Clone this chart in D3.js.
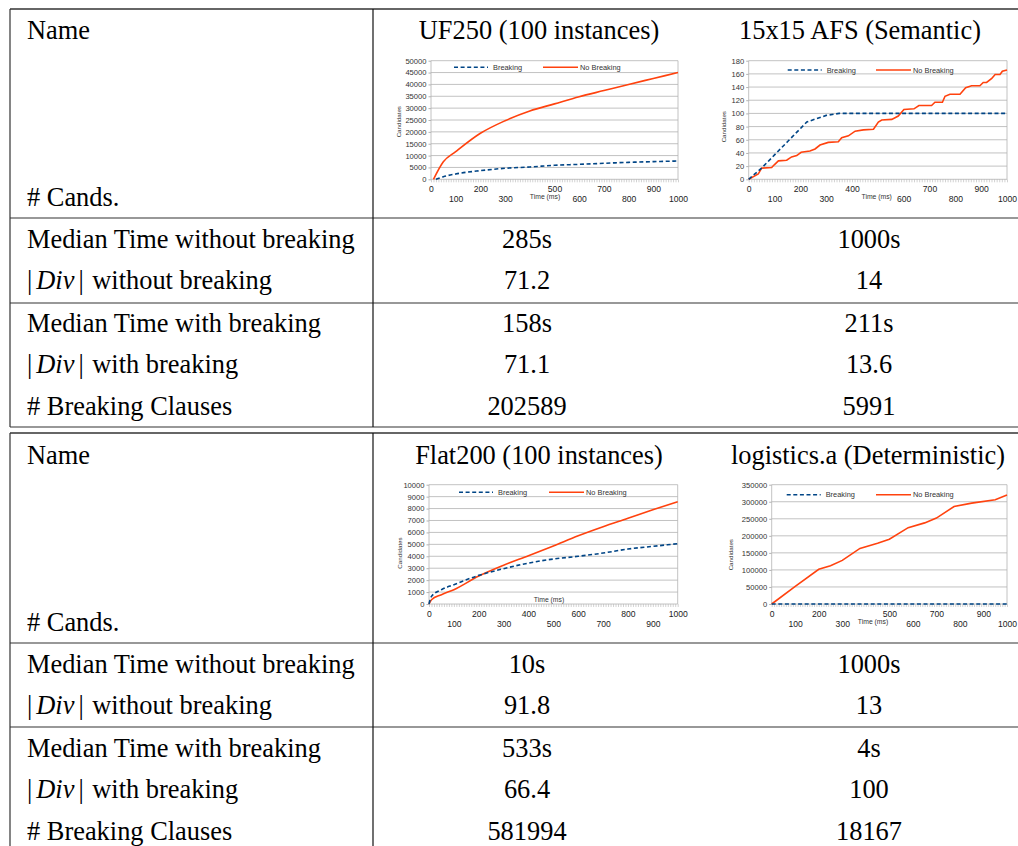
<!DOCTYPE html>
<html>
<head>
<meta charset="utf-8">
<script src="https://cdn.jsdelivr.net/npm/d3@7"></script>
<style>
  body { margin: 0; background: #fff; }
  svg { display: block; }
</style>
</head>
<body>
<svg id="page" width="1018" height="846"></svg>
<script>
// ---- table data ----
const rowLabels = ['Median Time without breaking', '|Div| without breaking', 'Median Time with breaking', '|Div| with breaking', '# Breaking Clauses'];
const headers1 = ['UF250 (100 instances)', '15x15 AFS (Semantic)'];
const headers2 = ['Flat200 (100 instances)', 'logistics.a (Deterministic)'];
const values1 = [['285s', '1000s'], ['71.2', '14'], ['158s', '211s'], ['71.1', '13.6'], ['202589', '5991']];
const values2 = [['10s', '1000s'], ['91.8', '13'], ['533s', '4s'], ['66.4', '100'], ['581994', '18167']];
const seriesNames = ['Breaking', 'No Breaking'];

// ---- chart data: [time (ms), candidates] ----
const uf250Breaking = [[20, 0], [50, 1100], [100, 2250], [200, 3650], [300, 4650], [400, 5200], [500, 5900], [600, 6300], [700, 6750], [800, 7150], [900, 7450], [1000, 7700]];
const uf250NoBreaking = [[10, 0], [50, 7400], [100, 11650], [200, 19400], [300, 24700], [400, 28800], [500, 31800], [600, 34800], [700, 37400], [800, 40000], [900, 42500], [1000, 45000]];
const afsBreaking = [[0, 0], [50, 17], [100, 37], [150, 57], [200, 77], [225, 87], [300, 97], [350, 100], [1000, 100]];
const afsNoBreaking = [[0, 0], [37, 8], [50, 17], [89, 18], [99, 22], [115, 28], [147, 29], [166, 34], [186, 36], [203, 41], [237, 43], [257, 46], [276, 52], [308, 56], [347, 57], [360, 63], [386, 66], [412, 73], [444, 75], [483, 76], [502, 87], [515, 90], [554, 91], [579, 96], [601, 106], [640, 107], [659, 112], [708, 112], [721, 117], [750, 117], [760, 126], [779, 129], [818, 129], [840, 139], [863, 142], [895, 142], [908, 147], [921, 147], [941, 153], [954, 159], [973, 159], [982, 164], [1000, 166]];
const flatBreaking = [[0, 0], [10, 640], [50, 1200], [100, 1620], [200, 2400], [300, 2960], [400, 3430], [500, 3770], [600, 4000], [700, 4270], [800, 4610], [900, 4830], [1000, 5060]];
const flatNoBreaking = [[0, 0], [10, 360], [50, 780], [100, 1200], [200, 2340], [300, 3250], [400, 4050], [500, 4870], [600, 5720], [700, 6480], [800, 7180], [900, 7900], [1000, 8580]];
const logBreaking = [[0, 150], [1000, 150]];
const logNoBreaking = [[0, 0], [100, 52000], [200, 102000], [250, 112000], [300, 128000], [375, 163000], [450, 178000], [500, 190000], [580, 224000], [650, 238000], [700, 252000], [775, 286000], [850, 296000], [950, 306000], [1000, 320000]];

// x tick labels, staggered on two rows
const uf250TicksUpper = [0, 200, 500, 700, 900], uf250TicksLower = [100, 300, 600, 800, 1000];
const afsTicksUpper = [0, 200, 400, 700, 900], afsTicksLower = [100, 300, 600, 800, 1000];
const flatTicksUpper = [0, 200, 400, 600, 800, 1000], flatTicksLower = [100, 300, 500, 700, 900];
const logTicksUpper = [0, 200, 500, 700, 900], logTicksLower = [100, 300, 600, 800, 1000];

const svg = d3.select('#page');
const serif = "'Liberation Serif', 'Times New Roman', Times, 'DejaVu Serif', serif";
const sans = "'Liberation Sans', Arial, 'DejaVu Sans', sans-serif";
const ink = '#222';

function cell(g, x, y, anchor) {
  return g.append('text').attr('x', x).attr('y', y).attr('text-anchor', anchor || 'start')
    .attr('font-family', serif).attr('font-size', 26.4).attr('fill', '#000');
}

// ---- table ----
function drawTable(top, headerY, lines, headers, headerX, values, rowY) {
  const g = svg.append('g');
  lines.forEach(y => g.append('line').attr('x1', 10).attr('x2', 1018).attr('y1', y).attr('y2', y)
    .attr('stroke', '#333').attr('stroke-width', y === top ? 1.6 : 1.2));
  g.append('line').attr('x1', 10).attr('x2', 10).attr('y1', top).attr('y2', lines[lines.length - 1])
    .attr('stroke', '#333').attr('stroke-width', 1.2);
  g.append('line').attr('x1', 373).attr('x2', 373).attr('y1', top).attr('y2', lines[lines.length - 1])
    .attr('stroke', '#111').attr('stroke-width', 1.2);

  cell(g, 27, headerY).text('Name');
  cell(g, 27, rowY[0] - 42).text('# Cands.');
  headers.forEach((h, i) => cell(g, headerX[i], headerY, 'middle').text(h));

  rowLabels.forEach((lab, r) => {
    const t = cell(g, 27, rowY[r]);
    if (lab.startsWith('|Div|')) {
      // math-style |Div| with a little extra spacing around the italic part
      t.append('tspan').text('|');
      t.append('tspan').attr('dx', 4).attr('font-style', 'italic').text('Div');
      t.append('tspan').attr('dx', 4).text('|');
      t.append('tspan').attr('dx', 2).text(lab.slice(5));
    } else {
      t.text(lab);
    }
    values[r].forEach((v, c) => cell(g, [527, 869][c], rowY[r], 'middle').text(v));
  });
}

drawTable(9, 39, [9, 218, 303, 427], headers1, [539, 860], values1, [248, 289, 332, 373, 415]);
drawTable(433, 464, [433, 643, 727, 860], headers2, [539, 868], values2, [673, 714, 757, 798, 840]);

// ---- charts ----
function drawChart(cfg) {
  const g = svg.append('g');
  const x = d3.scaleLinear().domain([0, 1000]).range([cfg.left, cfg.right]);
  const y = d3.scaleLinear().domain([0, cfg.yMax]).range([cfg.bottom, cfg.top]);
  const yTicks = d3.range(0, cfg.yMax + 1, cfg.yStep);
  const fmt = d3.format('d');

  // grid lines and frame
  g.append('g').selectAll('line').data(yTicks).join('line')
    .attr('x1', cfg.left).attr('x2', cfg.right)
    .attr('y1', d => y(d)).attr('y2', d => y(d))
    .attr('stroke', '#b3b3b3').attr('stroke-width', 0.8);
  [cfg.left, cfg.right].forEach(xx => g.append('line').attr('x1', xx).attr('x2', xx)
    .attr('y1', cfg.top).attr('y2', cfg.bottom).attr('stroke', '#b3b3b3').attr('stroke-width', 0.8));

  // y axis
  const ya = g.append('g').attr('transform', `translate(${cfg.left},0)`)
    .call(d3.axisLeft(y).tickValues(yTicks).tickSize(2.5).tickPadding(2).tickFormat(fmt));
  ya.select('.domain').remove();
  ya.selectAll('line').attr('stroke', '#b3b3b3');
  ya.selectAll('text').attr('font-family', sans).attr('font-size', 7.6).attr('fill', '#333');

  // x axis minor ticks every 10 ms
  const xm = g.append('g').attr('transform', `translate(0,${cfg.bottom})`)
    .call(d3.axisBottom(x).tickValues(d3.range(0, 1001, 10)).tickSize(3).tickFormat(''));
  xm.select('.domain').remove();
  xm.selectAll('line').attr('stroke', '#b3b3b3').attr('stroke-width', 0.6);

  // staggered x labels
  [[cfg.ticksUpper, cfg.upperY], [cfg.ticksLower, cfg.lowerY]].forEach(([vals, yy]) => {
    const xa = g.append('g').attr('transform', `translate(0,${yy})`)
      .call(d3.axisBottom(x).tickValues(vals).tickSize(0).tickPadding(0).tickFormat(fmt));
    xa.select('.domain').remove();
    xa.selectAll('text').attr('font-family', sans).attr('font-size', 8.6).attr('fill', ink)
      .attr('dy', 0).attr('y', 0);
  });

  g.append('text').attr('x', cfg.xTitle[0]).attr('y', cfg.xTitle[1]).attr('text-anchor', 'middle')
    .attr('font-family', sans).attr('font-size', 6.8).attr('fill', '#333').text('Time (ms)');
  g.append('text').attr('transform', `translate(${cfg.yTitle[0]},${cfg.yTitle[1]}) rotate(-90)`)
    .attr('text-anchor', 'middle').attr('font-family', sans).attr('font-size', 6.2).attr('fill', '#333')
    .text('Candidates');

  const line = d3.line().x(d => x(d[0])).y(d => y(d[1])).curve(cfg.curve);
  g.append('path').datum(cfg.noBreaking).attr('d', line).attr('fill', 'none')
    .attr('stroke', '#ff420e').attr('stroke-width', 1.6);
  g.append('path').datum(cfg.breaking).attr('d', line).attr('fill', 'none')
    .attr('stroke', '#004586').attr('stroke-width', 1.6).attr('stroke-dasharray', '4,2.6');

  // legend
  const [lx, ly, rx] = cfg.legend;
  g.append('line').attr('x1', lx).attr('x2', lx + 34).attr('y1', ly).attr('y2', ly)
    .attr('stroke', '#004586').attr('stroke-width', 1.6).attr('stroke-dasharray', '4,2.6');
  g.append('text').attr('x', lx + 39).attr('y', ly + 2.6).attr('font-family', sans)
    .attr('font-size', 7.4).attr('fill', '#333').text(seriesNames[0]);
  g.append('line').attr('x1', rx).attr('x2', rx + 35).attr('y1', ly).attr('y2', ly)
    .attr('stroke', '#ff420e').attr('stroke-width', 1.6);
  g.append('text').attr('x', rx + 37).attr('y', ly + 2.6).attr('font-family', sans)
    .attr('font-size', 7.4).attr('fill', '#333').text(seriesNames[1]);
}

drawChart({ left: 431, right: 678, top: 60.7, bottom: 179.3, yMax: 50000, yStep: 5000,
  breaking: uf250Breaking, noBreaking: uf250NoBreaking, curve: d3.curveMonotoneX,
  ticksUpper: uf250TicksUpper, ticksLower: uf250TicksLower, upperY: 191.5, lowerY: 201.5,
  xTitle: [545, 198.5], yTitle: [401, 121.7], legend: [454, 67.3, 543] });
drawChart({ left: 748.7, right: 1007, top: 60.7, bottom: 179.3, yMax: 180, yStep: 20,
  breaking: afsBreaking, noBreaking: afsNoBreaking, curve: d3.curveLinear,
  ticksUpper: afsTicksUpper, ticksLower: afsTicksLower, upperY: 192, lowerY: 202,
  xTitle: [876.7, 198.5], yTitle: [726, 126.7], legend: [787.7, 70, 876] });
drawChart({ left: 429, right: 677.7, top: 484.7, bottom: 604, yMax: 10000, yStep: 1000,
  breaking: flatBreaking, noBreaking: flatNoBreaking, curve: d3.curveMonotoneX,
  ticksUpper: flatTicksUpper, ticksLower: flatTicksLower, upperY: 616.5, lowerY: 626.5,
  xTitle: [549, 601.5], yTitle: [402, 553], legend: [459, 492.3, 549] });
drawChart({ left: 771.7, right: 1007, top: 484.7, bottom: 604, yMax: 350000, yStep: 50000,
  breaking: logBreaking, noBreaking: logNoBreaking, curve: d3.curveLinear,
  ticksUpper: logTicksUpper, ticksLower: logTicksLower, upperY: 616.5, lowerY: 626.5,
  xTitle: [873, 624], yTitle: [732.5, 554.7], legend: [786.7, 494.7, 876] });
</script>
</body>
</html>
